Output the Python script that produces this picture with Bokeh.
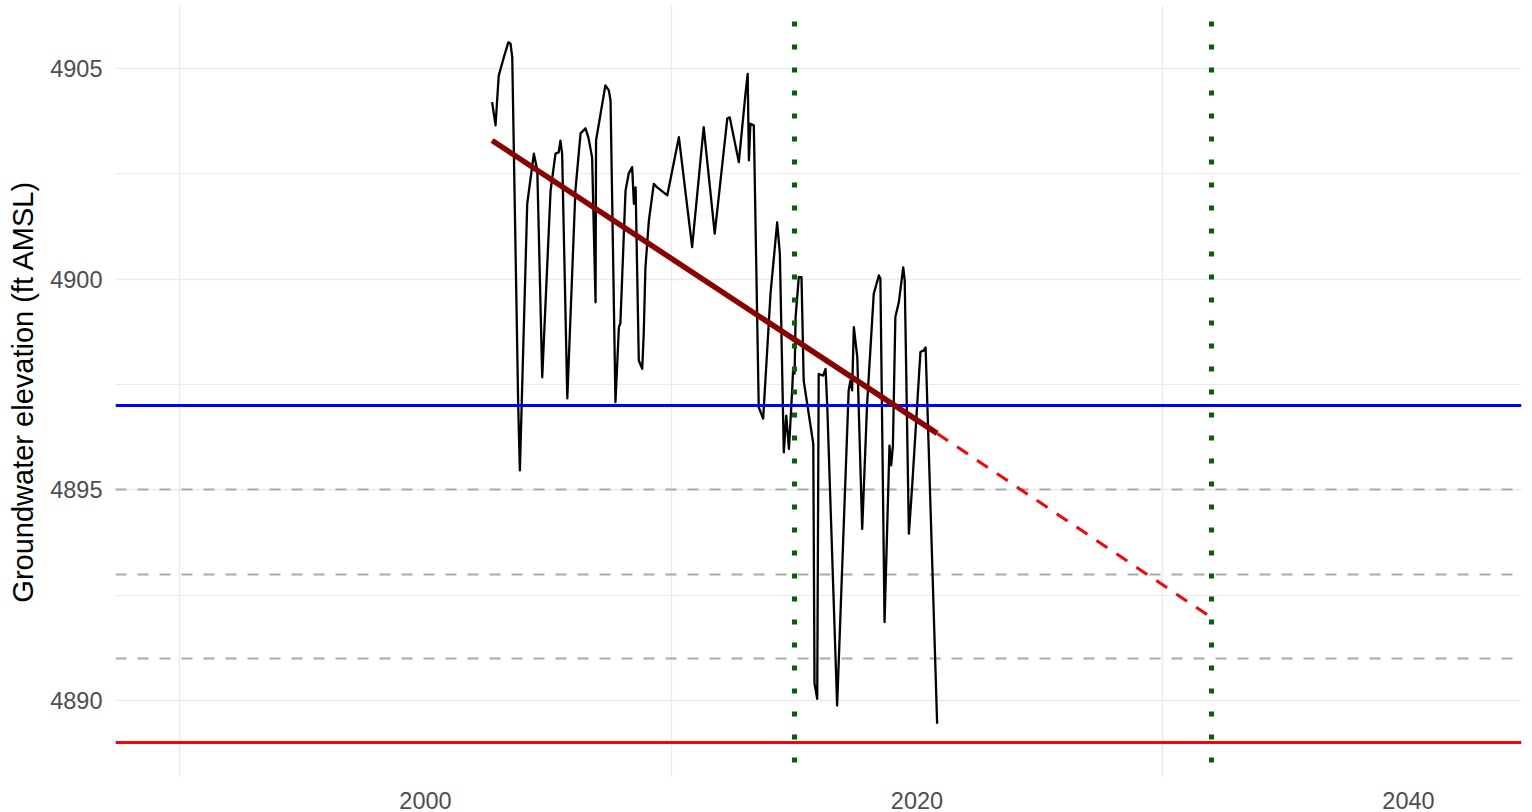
from bokeh.plotting import figure
from bokeh.models import Range1d, FixedTicker
from bokeh.embed import file_html
from bokeh.resources import INLINE

# ---- data ----
years = [2002.71, 2002.85, 2002.98, 2003.19, 2003.37, 2003.46, 2003.53, 2003.77, 2003.84, 2004.14,
         2004.41, 2004.55, 2004.75, 2005.09, 2005.29, 2005.42, 2005.49, 2005.56, 2005.77, 2006.10,
         2006.31, 2006.51, 2006.63, 2006.78, 2006.92, 2006.94, 2007.32, 2007.46, 2007.53, 2007.73,
         2007.87, 2007.93, 2008.14, 2008.27, 2008.41, 2008.48, 2008.55, 2008.68, 2008.82, 2008.88,
         2008.95, 2009.09, 2009.29, 2009.43, 2009.84, 2010.31, 2010.85, 2011.32, 2011.77, 2012.28,
         2012.38, 2012.75, 2013.02, 2013.11, 2013.16, 2013.22, 2013.36, 2013.56, 2013.74, 2014.04,
         2014.31, 2014.42, 2014.58, 2014.68, 2014.79, 2014.92, 2014.96, 2015.02, 2015.06, 2015.19,
         2015.30, 2015.39, 2015.78, 2015.83, 2015.94, 2016.00, 2016.18, 2016.28, 2016.35, 2016.75,
         2017.22, 2017.29, 2017.36, 2017.43, 2017.57, 2017.77, 2017.97, 2018.24, 2018.45, 2018.51,
         2018.68, 2018.88, 2018.95, 2019.02, 2019.12, 2019.26, 2019.44, 2019.50, 2019.67, 2019.80,
         2020.14, 2020.28, 2020.35, 2020.82]
elevation = [4904.20, 4903.65, 4904.83, 4905.27, 4905.62, 4905.59, 4905.27, 4897.08, 4895.46, 4901.79,
             4902.98, 4902.58, 4897.67, 4902.10, 4902.98, 4903.01, 4903.29, 4902.98, 4897.17, 4902.10,
             4903.46, 4903.58, 4903.36, 4902.89, 4899.45, 4903.29, 4904.60, 4904.48, 4904.24, 4897.08,
             4898.86, 4898.95, 4902.10, 4902.51, 4902.66, 4901.79, 4902.18, 4898.07, 4897.87, 4898.71,
             4900.28, 4901.39, 4902.26, 4902.18, 4901.99, 4903.37, 4900.76, 4903.61, 4901.08, 4903.81,
             4903.84, 4902.78, 4904.40, 4904.87, 4902.82, 4903.69, 4903.65, 4896.96, 4896.69, 4899.66,
             4901.35, 4900.60, 4895.89, 4896.76, 4895.97, 4897.36, 4897.88, 4897.76, 4899.10, 4900.05,
             4900.05, 4897.59, 4896.09, 4890.40, 4890.04, 4897.75, 4897.71, 4897.87, 4896.96, 4889.88,
             4897.36, 4897.59, 4897.36, 4898.86, 4898.15, 4894.07, 4897.04, 4899.65, 4900.09, 4900.01,
             4891.86, 4896.05, 4895.58, 4896.05, 4899.10, 4899.45, 4900.28, 4899.97, 4893.96, 4895.06,
             4898.27, 4898.31, 4898.38, 4889.45]

trend_years = [2002.71, 2020.82]
trend_values = [4903.29, 4896.34]
projection_years = [2020.82, 2032.0]
projection_values = [4896.34, 4891.96]

threshold_levels = [4895, 4893, 4891]
measurable_objective = [4897]
minimum_threshold = [4889]
milestone_years = [2015, 2032]

x_ticks = [2000, 2020, 2040]
x_grid = [1990, 2010, 2030]
y_ticks = [4890, 4895, 4900, 4905]
y_minor = [4887.5, 4892.5, 4897.5, 4902.5]

FONT = "Liberation Sans"

p = figure(width=1524, height=812, output_backend="svg", toolbar_location=None,
           x_range=Range1d(1987.386, 2044.598), y_range=Range1d(4888.173, 4906.495),
           min_border_left=115, min_border_right=3, min_border_top=5, min_border_bottom=35)
p.outline_line_color = None
p.background_fill_color = "white"
p.border_fill_color = "white"

# grid
p.xgrid.ticker = FixedTicker(ticks=x_grid)
p.xgrid.grid_line_color = "#EBEBEB"
p.xgrid.grid_line_width = 1.4
p.ygrid.ticker = FixedTicker(ticks=y_ticks, minor_ticks=y_minor)
p.ygrid.grid_line_color = "#EBEBEB"
p.ygrid.grid_line_width = 1.4
p.ygrid.minor_grid_line_color = "#EBEBEB"
p.ygrid.minor_grid_line_width = 1.2

# axes
p.xaxis.ticker = FixedTicker(ticks=x_ticks)
p.yaxis.ticker = FixedTicker(ticks=y_ticks, minor_ticks=y_minor)
for ax in (p.xaxis[0], p.yaxis[0]):
    ax.axis_line_color = None
    ax.major_tick_line_color = None
    ax.minor_tick_line_color = None
    ax.major_tick_out = 0
    ax.major_tick_in = 0
    ax.minor_tick_out = 0
    ax.minor_tick_in = 0
    ax.major_label_text_font = FONT
    ax.major_label_text_font_size = "23.5px"
    ax.major_label_text_color = "#4D4D4D"
p.xaxis.major_label_standoff = 14
p.yaxis.major_label_standoff = 13
p.yaxis.axis_label = "Groundwater elevation (ft AMSL)"
p.yaxis.axis_label_text_font = FONT
p.yaxis.axis_label_text_font_size = "29px"
p.yaxis.axis_label_text_font_style = "normal"
p.yaxis.axis_label_text_color = "black"
p.yaxis.axis_label_standoff = 8

# reference lines
p.hspan(y=threshold_levels, line_color="#A9A9A9", line_width=2, line_dash="11 11")
p.line(years, elevation, line_color="black", line_width=2.3, line_join="round")
p.hspan(y=measurable_objective, line_color="#0000FF", line_width=2.8)
p.hspan(y=minimum_threshold, line_color="#FF0000", line_width=2.8)
p.line(trend_years, trend_values, line_color="#8B0000", line_width=5.5)
p.line(projection_years, projection_values, line_color="#FF0000", line_width=3, line_dash="13 11")
p.vspan(x=milestone_years, line_color="#006400", line_width=5, line_dash="5 18", line_dash_offset=7)

open("out.html", "w").write(file_html(p, INLINE))
